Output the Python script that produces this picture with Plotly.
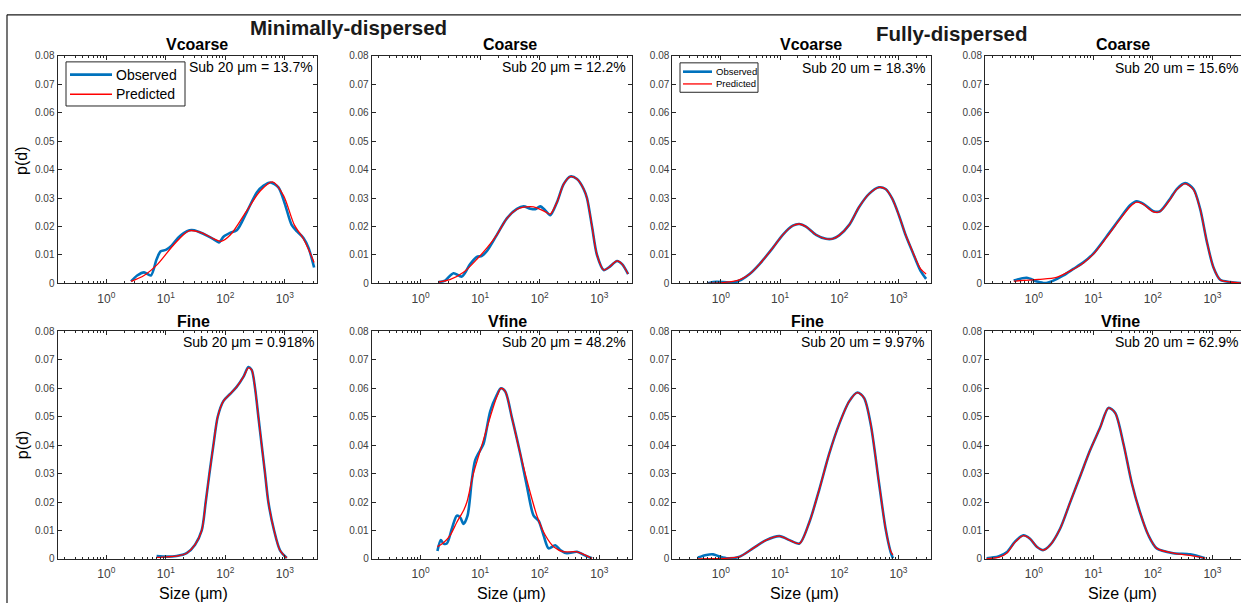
import plotly.graph_objects as go

W, H = 1241, 609

# ---------------- data (size in µm, p(d)) ----------------
panel_titles = ["Vcoarse", "Coarse", "Vcoarse", "Coarse", "Fine", "Vfine", "Fine", "Vfine"]
sub20_labels = ["Sub 20 μm = 13.7%", "Sub 20 μm = 12.2%", "Sub 20 um = 18.3%", "Sub 20 um = 15.6%",
                "Sub 20 μm = 0.918%", "Sub 20 μm = 48.2%", "Sub 20 um = 9.97%", "Sub 20 um = 62.9%"]
group_titles = ["Minimally-dispersed", "Fully-dispersed"]
legend_labels = ["Observed", "Predicted"]
x_tick_vals = [1, 10, 100, 1000]
x_tick_text = ["10<sup>0</sup>", "10<sup>1</sup>", "10<sup>2</sup>", "10<sup>3</sup>"]
y_tick_vals = [0, 0.01, 0.02, 0.03, 0.04, 0.05, 0.06, 0.07, 0.08]
y_tick_text = ["0", "0.01", "0.02", "0.03", "0.04", "0.05", "0.06", "0.07", "0.08"]

# Minimally-dispersed, Vcoarse
min_vcoarse_obs_size = [2.6, 3.3, 4.3, 5.6, 7.0, 8.2, 10.0, 12.5, 16, 20, 25, 30, 38, 50, 64, 78, 94, 120, 157, 230, 340, 440, 570, 780, 1000, 1300, 1600, 2050, 2500, 3100]
min_vcoarse_obs_pd = [0.0007, 0.0028, 0.0039, 0.0028, 0.0085, 0.0113, 0.0118, 0.0133, 0.016, 0.0177, 0.0187, 0.0187, 0.0179, 0.0167, 0.0155, 0.0144, 0.0165, 0.0178, 0.0188, 0.0252, 0.0321, 0.0344, 0.0355, 0.0338, 0.028, 0.0206, 0.0183, 0.016, 0.0125, 0.0056]
min_vcoarse_pred_size = [2.6, 4.3, 7.3, 13.7, 24.4, 38.3, 64, 85, 122, 231, 388, 620, 950, 1440, 2050, 3100]
min_vcoarse_pred_pd = [0.0007, 0.0028, 0.0068, 0.0137, 0.0185, 0.018, 0.0157, 0.0148, 0.0171, 0.0257, 0.0326, 0.0357, 0.0309, 0.0206, 0.0157, 0.0074]

# Minimally-dispersed, Coarse
min_coarse_obs_size = [2.0, 2.58, 3.57, 4.93, 6.8, 8.8, 10.7, 13.0, 19.1, 28.1, 41.4, 53.6, 69.4, 84.1, 102, 124, 150, 195, 252, 326, 422, 546, 621, 754, 914, 1186, 1438, 1986, 2409, 3040]
min_coarse_obs_pd = [0.0005, 0.001, 0.0036, 0.0024, 0.0068, 0.0093, 0.0097, 0.0114, 0.0171, 0.0229, 0.0262, 0.0271, 0.0263, 0.0261, 0.0271, 0.0257, 0.024, 0.0286, 0.0349, 0.0376, 0.0367, 0.0332, 0.03, 0.02, 0.01, 0.0047, 0.0056, 0.0079, 0.0068, 0.0033]
min_coarse_pred_size = [2.0, 3.1, 5.26, 8.8, 13.0, 19.1, 28.1, 41.4, 53.6, 69.4, 89, 124, 150, 195, 252, 326, 422, 546, 621, 754, 914, 1186, 1438, 1986, 2409, 3040]
min_coarse_pred_pd = [0.0005, 0.0013, 0.0039, 0.0085, 0.0125, 0.0171, 0.0229, 0.0261, 0.0268, 0.027, 0.0266, 0.0252, 0.0244, 0.0286, 0.0349, 0.0376, 0.0367, 0.0332, 0.03, 0.02, 0.01, 0.0047, 0.0056, 0.0079, 0.0068, 0.0033]

# Fully-dispersed, Vcoarse
full_vcoarse_obs_size = [0.61, 0.74, 1.09, 1.60, 2.21, 3.06, 4.50, 7.54, 11.1, 16.4, 21.2, 27.4, 40.4, 59.4, 76.9, 99.5, 147, 216, 318, 468, 605, 784, 1014, 1312, 1699, 2344, 2922]
full_vcoarse_obs_pd = [0.0001, 0.0005, 0.0005, 0.0003, 0.0013, 0.0033, 0.0068, 0.0125, 0.0171, 0.0203, 0.0209, 0.02, 0.0171, 0.0157, 0.0157, 0.0169, 0.0206, 0.0269, 0.0315, 0.0338, 0.0332, 0.0298, 0.024, 0.0171, 0.0114, 0.0045, 0.0016]
full_vcoarse_pred_size = [0.61, 1.09, 1.60, 2.21, 3.06, 4.50, 7.54, 11.1, 16.4, 21.2, 27.4, 40.4, 59.4, 76.9, 99.5, 147, 216, 318, 468, 605, 784, 1014, 1312, 1699, 2344, 2922]
full_vcoarse_pred_pd = [0.0, 0.0003, 0.0007, 0.0015, 0.0033, 0.0068, 0.0125, 0.0171, 0.0203, 0.0209, 0.02, 0.0171, 0.0157, 0.0157, 0.0169, 0.0206, 0.0269, 0.0315, 0.0338, 0.0332, 0.0298, 0.024, 0.0172, 0.0116, 0.0052, 0.0033]

# Fully-dispersed, Coarse
full_coarse_obs_size = [0.46, 0.76, 1.12, 1.54, 2.13, 3.14, 4.62, 6.8, 10.0, 16.8, 28.1, 41.4, 53.6, 69.4, 102, 132, 195, 252, 348, 480, 621, 804, 1042, 1349, 1986, 3040]
full_coarse_obs_pd = [0.001, 0.002, 0.0007, 0.0001, 0.001, 0.0028, 0.0051, 0.0074, 0.0105, 0.0166, 0.0229, 0.0275, 0.0289, 0.028, 0.0254, 0.0254, 0.0298, 0.0332, 0.0353, 0.0332, 0.0263, 0.0148, 0.0056, 0.0013, 0.0005, 0.0001]
full_coarse_pred_size = [0.46, 1.2, 2.4, 4.62, 6.8, 10.0, 16.8, 28.1, 41.4, 53.6, 69.4, 102, 132, 195, 252, 348, 480, 621, 804, 1042, 1349, 1986, 3040]
full_coarse_pred_pd = [0.0008, 0.0014, 0.0021, 0.005, 0.0072, 0.0103, 0.0163, 0.0226, 0.027, 0.0286, 0.0278, 0.0252, 0.0253, 0.0296, 0.033, 0.0351, 0.033, 0.0262, 0.0148, 0.0056, 0.0013, 0.0005, 0.0001]

# Minimally-dispersed, Fine
min_fine_obs_size = [7.0, 10.4, 15.2, 22.4, 31.0, 40.1, 46.8, 54, 63, 74.5, 92.7, 120, 155, 201, 244, 277, 316, 359, 408, 465, 528, 659, 830, 1076]
min_fine_obs_pd = [0.001, 0.0008, 0.001, 0.002, 0.005, 0.01, 0.02, 0.03, 0.04, 0.05, 0.0555, 0.058, 0.0605, 0.064, 0.0675, 0.0665, 0.06, 0.05, 0.04, 0.03, 0.02, 0.01, 0.003, 0.0003]
min_fine_pred_size = [7.0, 10.4, 15.2, 22.4, 31.0, 40.1, 46.8, 54, 63, 74.5, 92.7, 120, 155, 201, 244, 277, 316, 359, 408, 465, 528, 659, 830, 1076]
min_fine_pred_pd = [0.0005, 0.0007, 0.001, 0.002, 0.005, 0.01, 0.02, 0.03, 0.04, 0.05, 0.0555, 0.058, 0.0605, 0.064, 0.0672, 0.0665, 0.06, 0.05, 0.04, 0.03, 0.02, 0.01, 0.003, 0.0003]

# Minimally-dispersed, Vfine
min_vfine_obs_size = [1.92, 2.19, 2.42, 2.76, 3.35, 4.06, 4.62, 5.26, 6.14, 7.26, 8.26, 10.0, 11.4, 14.8, 19.1, 22.3, 26.4, 34.1, 47.1, 61, 78.9, 95.7, 116, 141, 182, 221, 286, 422, 546, 754]
min_vfine_obs_pd = [0.0028, 0.0066, 0.0054, 0.0054, 0.0106, 0.0152, 0.0146, 0.0123, 0.0152, 0.0278, 0.0347, 0.0382, 0.0405, 0.052, 0.0577, 0.06, 0.0589, 0.0497, 0.037, 0.0255, 0.0152, 0.0134, 0.0083, 0.0037, 0.0048, 0.0031, 0.002, 0.0025, 0.0014, 0.0002]
min_vfine_pred_size = [1.92, 2.42, 3.14, 4.06, 5.26, 6.0, 7.7, 10.7, 14.8, 19.1, 22.3, 26.4, 34.1, 47.1, 69.4, 89.7, 124, 171, 252, 422, 754]
min_vfine_pred_pd = [0.0043, 0.0057, 0.0083, 0.0129, 0.017, 0.02, 0.03, 0.04, 0.05, 0.0571, 0.06, 0.0589, 0.0497, 0.037, 0.0232, 0.0152, 0.0083, 0.0043, 0.0025, 0.0025, 0.0002]

# Fully-dispersed, Fine
full_fine_obs_size = [0.41, 0.57, 0.74, 0.96, 1.32, 2.08, 3.48, 5.82, 9.77, 14.4, 21.2, 31.2, 45.9, 67.6, 99.5, 147, 202, 262, 339, 468, 605, 735, 804]
full_fine_obs_pd = [0.0005, 0.0014, 0.0016, 0.0008, 0.0002, 0.0008, 0.0037, 0.0066, 0.008, 0.0066, 0.0054, 0.0129, 0.0244, 0.037, 0.0474, 0.0554, 0.0585, 0.0566, 0.0474, 0.0267, 0.0106, 0.0025, 0.0002]
full_fine_pred_size = [0.41, 0.74, 1.32, 2.08, 3.48, 5.82, 9.77, 14.4, 21.2, 31.2, 45.9, 67.6, 99.5, 147, 202, 262, 339, 468, 605, 735, 804]
full_fine_pred_pd = [0.0, 0.0001, 0.0003, 0.0008, 0.0037, 0.0066, 0.008, 0.0066, 0.0054, 0.0129, 0.0244, 0.037, 0.0474, 0.0554, 0.0585, 0.0566, 0.0474, 0.0267, 0.0106, 0.0028, 0.0014]

# Fully-dispersed, Vfine
full_vfine_obs_size = [0.161, 0.254, 0.35, 0.48, 0.667, 0.863, 1.12, 1.45, 1.87, 2.76, 4.06, 5.98, 8.81, 13.0, 17.9, 23.2, 32.0, 44.2, 61.0, 84.1, 116, 221, 422, 754]
full_vfine_obs_pd = [0.0002, 0.0008, 0.0023, 0.006, 0.0083, 0.0071, 0.0043, 0.0031, 0.0048, 0.0106, 0.0198, 0.029, 0.0382, 0.0462, 0.0531, 0.0514, 0.0405, 0.0267, 0.0163, 0.0083, 0.0037, 0.002, 0.0016, 0.0002]
full_vfine_pred_size = [0.161, 0.254, 0.35, 0.48, 0.667, 0.863, 1.12, 1.45, 1.87, 2.76, 4.06, 5.98, 8.81, 13.0, 17.9, 23.2, 32.0, 44.2, 61.0, 84.1, 116, 221, 422, 754]
full_vfine_pred_pd = [0.0001, 0.0005, 0.002, 0.0058, 0.0082, 0.0071, 0.0043, 0.0031, 0.0048, 0.0106, 0.0198, 0.029, 0.0382, 0.0462, 0.0531, 0.0514, 0.0405, 0.0267, 0.0163, 0.0083, 0.0037, 0.002, 0.0012, 0.0002]

obs_series = [
    (min_vcoarse_obs_size, min_vcoarse_obs_pd), (min_coarse_obs_size, min_coarse_obs_pd),
    (full_vcoarse_obs_size, full_vcoarse_obs_pd), (full_coarse_obs_size, full_coarse_obs_pd),
    (min_fine_obs_size, min_fine_obs_pd), (min_vfine_obs_size, min_vfine_obs_pd),
    (full_fine_obs_size, full_fine_obs_pd), (full_vfine_obs_size, full_vfine_obs_pd),
]
pred_series = [
    (min_vcoarse_pred_size, min_vcoarse_pred_pd), (min_coarse_pred_size, min_coarse_pred_pd),
    (full_vcoarse_pred_size, full_vcoarse_pred_pd), (full_coarse_pred_size, full_coarse_pred_pd),
    (min_fine_pred_size, min_fine_pred_pd), (min_vfine_pred_size, min_vfine_pred_pd),
    (full_fine_pred_size, full_fine_pred_pd), (full_vfine_pred_size, full_vfine_pred_pd),
]

# ---------------- layout geometry (pixels) ----------------
col_px = [(57.5, 317.0), (371.7, 631.5), (672.3, 930.5), (985.0, 1241.0)]
row_px = [(51.0, 283.0), (332.0, 564.0)]
x_ranges = [[-0.82, 3.54], [-0.82, 3.54], [-0.82, 3.54], [-0.82, 3.48]]
title_px = [(197, 39), (510, 39), (811, 39), (1123, 39), (193, 322), (507, 322), (807, 322), (1120, 322)]
sub_px = [(315, 62), (628, 62), (927, 63), (1240, 63), (316, 343), (628, 343), (926, 343), (1240, 343)]
xlabel_px = [(193, 599), (511, 599), (804, 599), (1122, 599)]
ylabel_px = [(22, 158), (22, 448)]
# legend boxes: (left, top, right, bottom, line_x0, line_x1, text_x, row_y1, row_y2, font size)
legend_boxes = [
    (66, 57, 185, 102, 70, 112, 114, 70, 90, 14),
    (680, 58, 758, 88, 683, 712, 714, 67, 79.5, 9.5),
]

FONT = "Liberation Sans, Arial, Helvetica, sans-serif"
AX = "#262626"
TICKC = "#404040"
BLUE = "#0072BD"
RED = "#FF0000"
OBS_W, PRED_W = 2.6, 1.3


def px2x(px):
    return px / W


def px2y(py):
    return 1 - py / H


minor_vals = [m * d for d in [0.1, 1, 10, 100, 1000] for m in range(2, 10)]

fig = go.Figure()
layout = {}
for i in range(8):
    r, c = divmod(i, 4)
    n = i + 1
    xa = "x" if n == 1 else f"x{n}"
    ya = "y" if n == 1 else f"y{n}"
    xs, ys = obs_series[i]
    xp, yp = pred_series[i]
    fig.add_trace(go.Scatter(x=xs, y=ys, mode="lines", name=legend_labels[0],
                             line=dict(color=BLUE, width=OBS_W, shape="spline", smoothing=0.8),
                             xaxis=xa, yaxis=ya, showlegend=False))
    fig.add_trace(go.Scatter(x=xp, y=yp, mode="lines", name=legend_labels[1],
                             line=dict(color=RED, width=PRED_W, shape="spline", smoothing=0.8),
                             xaxis=xa, yaxis=ya, showlegend=False))
    xd = [px2x(col_px[c][0]), px2x(col_px[c][1])]
    yd = [px2y(row_px[r][1]), px2y(row_px[r][0])]
    xkey = "xaxis" if n == 1 else f"xaxis{n}"
    ykey = "yaxis" if n == 1 else f"yaxis{n}"
    layout[xkey] = dict(
        domain=xd, type="log", range=x_ranges[c], anchor=ya,
        showline=True, linecolor=AX, linewidth=1, mirror="allticks",
        ticks="inside", ticklen=4, tickcolor=AX, tickwidth=1,
        tickmode="array", tickvals=x_tick_vals, ticktext=x_tick_text,
        tickfont=dict(family=FONT, size=12, color=TICKC), ticklabelstandoff=4,
        minor=dict(tickmode="array", tickvals=minor_vals, ticks="inside", ticklen=2,
                   tickcolor=AX, showgrid=False),
        showgrid=False, zeroline=False, fixedrange=True,
    )
    layout[ykey] = dict(
        domain=yd, range=[0, 0.08], anchor=xa,
        showline=True, linecolor=AX, linewidth=1,
        mirror=("ticks" if c < 3 else False),
        ticks="inside", ticklen=4, tickcolor=AX, tickwidth=1,
        tickmode="array", tickvals=y_tick_vals, ticktext=y_tick_text,
        tickfont=dict(family=FONT, size=10, color=TICKC),
        showgrid=False, zeroline=False, fixedrange=True,
    )

annotations = []
for i in range(8):
    tx, ty = title_px[i]
    annotations.append(dict(text=f"<b>{panel_titles[i]}</b>", x=px2x(tx), y=px2y(ty),
                            xref="paper", yref="paper", xanchor="center", yanchor="middle",
                            showarrow=False, font=dict(family=FONT, size=16, color="#000000")))
    sx, sy = sub_px[i]
    annotations.append(dict(text=sub20_labels[i], x=px2x(sx), y=px2y(sy),
                            xref="paper", yref="paper", xanchor="right", yanchor="middle",
                            showarrow=False, font=dict(family=FONT, size=14, color="#000000")))
for (lx, ly) in xlabel_px:
    annotations.append(dict(text="Size (μm)", x=px2x(lx), y=px2y(ly), xref="paper", yref="paper",
                            xanchor="center", yanchor="middle", showarrow=False,
                            font=dict(family=FONT, size=16, color="#000000")))
for (lx, ly) in ylabel_px:
    annotations.append(dict(text="p(d)", x=px2x(lx), y=px2y(ly), xref="paper", yref="paper",
                            xanchor="center", yanchor="middle", showarrow=False, textangle=-90,
                            font=dict(family=FONT, size=16, color="#000000")))
annotations.append(dict(text=f"<b>{group_titles[0]}</b>", x=px2x(348), y=px2y(22), xref="paper",
                        yref="paper", xanchor="center", yanchor="middle", showarrow=False,
                        font=dict(family=FONT, size=20.5, color="#1a1a1a")))
annotations.append(dict(text=f"<b>{group_titles[1]}</b>", x=px2x(952), y=px2y(28), xref="paper",
                        yref="paper", xanchor="center", yanchor="middle", showarrow=False,
                        font=dict(family=FONT, size=20.5, color="#1a1a1a")))

shapes = [
    dict(type="line", xref="paper", yref="paper", x0=px2x(7), y0=px2y(9), x1=1.0, y1=px2y(9),
         line=dict(color="#1a1a1a", width=1.2)),
    dict(type="line", xref="paper", yref="paper", x0=px2x(7), y0=px2y(9), x1=px2x(7), y1=0.0,
         line=dict(color="#1a1a1a", width=1.2)),
]

# legend keys (boxed, as in the original figure)
for (bl, bt, br, bb, lx0, lx1, txx, ry1, ry2, fs) in legend_boxes:
    shapes.append(dict(type="rect", xref="paper", yref="paper",
                       x0=px2x(bl), x1=px2x(br), y0=px2y(bb), y1=px2y(bt),
                       fillcolor="white", line=dict(color=AX, width=1), layer="above"))
    for j, (col, wdt, yy) in enumerate([(BLUE, OBS_W, ry1), (RED, PRED_W, ry2)]):
        shapes.append(dict(type="line", xref="paper", yref="paper", x0=px2x(lx0), x1=px2x(lx1),
                           y0=px2y(yy), y1=px2y(yy), line=dict(color=col, width=wdt), layer="above"))
        annotations.append(dict(text=legend_labels[j], x=px2x(txx), y=px2y(yy), xref="paper",
                                yref="paper", xanchor="left", yanchor="middle", showarrow=False,
                                font=dict(family=FONT, size=fs, color="#000000")))

fig.update_layout(
    width=W, height=H, margin=dict(l=0, r=0, t=0, b=0),
    paper_bgcolor="white", plot_bgcolor="white", showlegend=False,
    annotations=annotations, shapes=shapes,
    **layout,
)

fig.write_html("out.html")
